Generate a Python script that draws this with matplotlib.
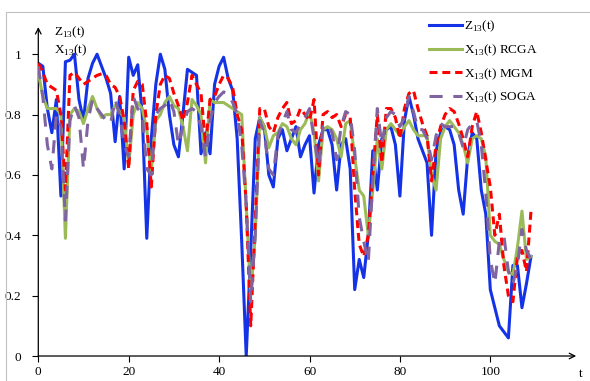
import matplotlib
matplotlib.use("Agg")
import matplotlib.pyplot as plt
from matplotlib.patches import Rectangle

plt.rcParams['font.family'] = ['Liberation Serif', 'DejaVu Serif']
plt.rcParams['mathtext.fontset'] = 'custom'
plt.rcParams['mathtext.rm'] = 'Liberation Serif'

# time steps
t = list(range(110))

# Z13(t) - reference signal
z13 = [0.97, 0.96, 0.82, 0.74, 0.85, 0.53, 0.975, 0.98, 1.0, 0.85,
       0.78, 0.92, 0.97, 1.0, 0.96, 0.92, 0.87, 0.71, 0.86, 0.62,
       0.99, 0.93, 0.965, 0.80, 0.39, 0.72, 0.90, 1.0, 0.95, 0.80,
       0.70, 0.66, 0.80, 0.95, 0.94, 0.93, 0.67, 0.74, 0.67, 0.90,
       0.96, 0.99, 0.92, 0.88, 0.72, 0.38, 0.0, 0.35, 0.72, 0.79,
       0.76, 0.60, 0.56, 0.72, 0.75, 0.68, 0.72, 0.76, 0.66, 0.70,
       0.73, 0.54, 0.70, 0.75, 0.75, 0.70, 0.55, 0.70, 0.72, 0.62,
       0.22, 0.32, 0.26, 0.40, 0.68, 0.55, 0.72, 0.75, 0.76, 0.70,
       0.53, 0.78, 0.86, 0.80, 0.72, 0.68, 0.64, 0.40, 0.68, 0.74,
       0.76, 0.75, 0.70, 0.55, 0.47, 0.66, 0.74, 0.72, 0.55, 0.47,
       0.22, 0.16, 0.10, 0.08, 0.06, 0.30, 0.30, 0.16, 0.24, 0.33]

# X13(t) RCGA
x_rcga = [0.94, 0.86, 0.82, 0.82, 0.82, 0.80, 0.39, 0.80, 0.82, 0.81,
          0.77, 0.82, 0.86, 0.82, 0.79, 0.80, 0.80, 0.83, 0.81, 0.79,
          0.63, 0.80, 0.84, 0.82, 0.75, 0.61, 0.78, 0.80, 0.84, 0.86,
          0.83, 0.82, 0.76, 0.68, 0.85, 0.83, 0.80, 0.64, 0.85, 0.84,
          0.84, 0.84, 0.83, 0.82, 0.81, 0.80, 0.50, 0.20, 0.40, 0.79,
          0.76, 0.69, 0.73, 0.74, 0.77, 0.76, 0.72, 0.70, 0.75, 0.77,
          0.81, 0.74, 0.58, 0.75, 0.76, 0.75, 0.72, 0.66, 0.77, 0.78,
          0.66, 0.55, 0.53, 0.40, 0.55, 0.72, 0.62, 0.75, 0.77, 0.75,
          0.73, 0.76, 0.78, 0.75, 0.73, 0.73, 0.73, 0.60, 0.55, 0.72,
          0.76, 0.78, 0.76, 0.74, 0.70, 0.64, 0.72, 0.73, 0.72, 0.66,
          0.40, 0.38, 0.37, 0.32, 0.28, 0.27, 0.36, 0.48, 0.32, 0.33]

# X13(t) MGM
x_mgm = [0.97, 0.94, 0.90, 0.89, 0.88, 0.80, 0.55, 0.93, 0.94, 0.92,
         0.90, 0.91, 0.92, 0.93, 0.935, 0.93, 0.90, 0.89, 0.86, 0.78,
         0.62, 0.88, 0.91, 0.90, 0.77, 0.56, 0.80, 0.90, 0.93, 0.92,
         0.87, 0.83, 0.78, 0.84, 0.93, 0.90, 0.87, 0.70, 0.85, 0.86,
         0.90, 0.93, 0.92, 0.89, 0.80, 0.75, 0.50, 0.10, 0.45, 0.82,
         0.82, 0.76, 0.74, 0.79, 0.82, 0.84, 0.77, 0.78, 0.82, 0.80,
         0.78, 0.85, 0.60, 0.80, 0.81, 0.79, 0.80, 0.76, 0.80, 0.79,
         0.55, 0.37, 0.33, 0.40, 0.60, 0.80, 0.64, 0.82, 0.82, 0.79,
         0.72, 0.82, 0.87, 0.88, 0.82, 0.77, 0.73, 0.58, 0.70, 0.76,
         0.80, 0.82, 0.81, 0.77, 0.72, 0.66, 0.76, 0.81, 0.74, 0.65,
         0.56, 0.40, 0.47, 0.30, 0.20, 0.18, 0.33, 0.35, 0.28, 0.48]

# X13(t) SOGA
x_soga = [0.96, 0.86, 0.70, 0.62, 0.80, 0.76, 0.45, 0.78, 0.83, 0.79,
          0.62, 0.78, 0.85, 0.82, 0.80, 0.78, 0.77, 0.85, 0.80, 0.70,
          0.66, 0.86, 0.82, 0.80, 0.62, 0.60, 0.80, 0.82, 0.83, 0.85,
          0.81, 0.70, 0.76, 0.81, 0.82, 0.81, 0.76, 0.66, 0.78, 0.84,
          0.86, 0.875, 0.87, 0.84, 0.80, 0.70, 0.50, 0.18, 0.40, 0.78,
          0.74, 0.62, 0.60, 0.73, 0.77, 0.81, 0.75, 0.74, 0.77, 0.79,
          0.82, 0.72, 0.63, 0.76, 0.77, 0.74, 0.65, 0.76, 0.81, 0.80,
          0.68, 0.46, 0.38, 0.31, 0.58, 0.82, 0.70, 0.79, 0.81, 0.80,
          0.76, 0.79, 0.86, 0.81, 0.75, 0.75, 0.72, 0.65, 0.73, 0.77,
          0.76, 0.76, 0.76, 0.74, 0.69, 0.75, 0.77, 0.78, 0.70, 0.54,
          0.32, 0.24, 0.38, 0.40, 0.28, 0.24, 0.30, 0.42, 0.35, 0.32]

labels = [r'Z$_{\mathrm{13}}$(t)', r'X$_{\mathrm{13}}$(t) RCGA',
          r'X$_{\mathrm{13}}$(t) MGM', r'X$_{\mathrm{13}}$(t) SOGA']

fig = plt.figure(figsize=(5.9, 3.81), dpi=100)
ax = fig.add_axes([0.0649, 0.0656, 0.9117, 0.8634])

ax.plot(t, z13, color='#1432e6', lw=2.2, label=labels[0], zorder=3)
ax.plot(t, x_rcga, color='#9bbb59', lw=2.2, label=labels[1], zorder=4)
ax.plot(t, x_mgm, color='#ff0000', lw=2.2, dashes=(2.6, 1.6), label=labels[2], zorder=5)
ax.plot(t, x_soga, color='#8064a2', lw=2.2, dashes=(4.3, 3.5), label=labels[3], zorder=6)

ax.set_xlim(0, 119)
ax.set_ylim(0, 1.09)
ax.set_xticks([0, 20, 40, 60, 80, 100])
ax.set_yticks([0, 0.2, 0.4, 0.6, 0.8, 1.0])
ax.set_yticklabels(['0', '0.2', '0.4', '0.6', '0.8', '1'])
ax.tick_params(direction='out', length=4, width=0.8, labelsize=9.5, colors='black')
ax.tick_params(axis='y', pad=8)
ax.tick_params(axis='x', pad=3)

for side in ['top', 'right', 'left', 'bottom']:
    ax.spines[side].set_visible(False)

# axis arrows
ax.annotate('', xy=(1.0, 0), xytext=(0, 0), xycoords='axes fraction',
            arrowprops=dict(arrowstyle='->', lw=0.9, color='black', shrinkA=0, shrinkB=0))
ax.annotate('', xy=(0, 1.0), xytext=(0, 0), xycoords='axes fraction',
            arrowprops=dict(arrowstyle='->', lw=0.9, color='black', shrinkA=0, shrinkB=0))

fig.text(54 / 590, 1 - 32 / 381, r'Z$_{\mathrm{13}}$(t)', fontsize=9.5, va='center', ha='left')
fig.text(54 / 590, 1 - 50 / 381, r'X$_{\mathrm{13}}$(t)', fontsize=9.5, va='center', ha='left')
fig.text(579 / 590, 1 - 374 / 381, 't', fontsize=9.5, va='center', ha='left')

leg = fig.legend(loc='upper left', bbox_to_anchor=(429 / 590, 1 - 19 / 381),
                 frameon=False, fontsize=9.5, handlelength=2.5, handletextpad=0.15,
                 labelspacing=0.62, borderpad=0, borderaxespad=0)

# outer chart frame
fig.patches.append(Rectangle((6 / 590, -0.2), 1.2, 1.2 - 12 / 381,
                             transform=fig.transFigure, fill=False,
                             edgecolor='#c0c0c0', lw=0.8))

fig.savefig('out.png', dpi=100)
